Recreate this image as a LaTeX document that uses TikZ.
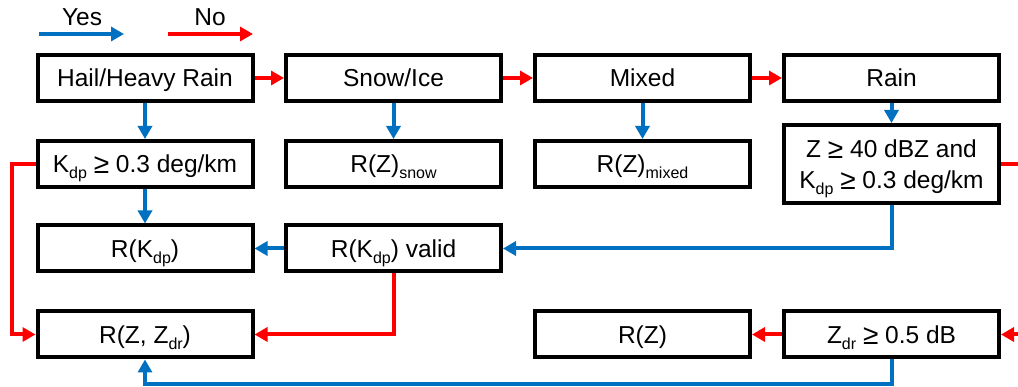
\documentclass[tikz,border=0pt]{standalone}
\usepackage{fontspec}
\setmainfont{Liberation Sans}
\usetikzlibrary{arrows.meta}
\definecolor{yesblue}{RGB}{0,112,192}
\definecolor{nored}{RGB}{255,0,0}
\newcommand{\lowsub}[1]{\raisebox{-6pt}{\fontsize{16}{16}\selectfont #1}}
\newcommand{\gee}{\raisebox{-1pt}{\fontsize{28}{28}\selectfont ≥}}
\begin{document}
\begin{tikzpicture}[x=1pt,y=-1pt,
  box/.style={draw=black, line width=4pt, minimum width=215pt, minimum height=46pt,
    inner sep=0pt, font=\fontsize{24.5}{31}\selectfont, align=center,
    text height=17.5pt, text depth=0pt},
  lbl/.style={inner sep=0pt, font=\fontsize{24.5}{31}\selectfont, text height=17.5pt, text depth=0pt},
  yes/.style={draw=yesblue, line width=4pt, -{Triangle[width=14pt,length=13pt]}},
  no/.style={draw=nored, line width=4pt, -{Triangle[width=14pt,length=13pt]}}]
\useasboundingbox (0,0) rectangle (1018,387);
\clip (0,0) rectangle (1018,387);
% legend
\node[lbl] (yeslbl) at (82,17) {Yes};
\node[lbl] (nolbl) at (210,17) {No};
\coordinate (ys) at (39,34); \coordinate (ye) at (124,34);
\coordinate (ns) at (168,34); \coordinate (ne) at (253,34);
\draw[yes] (ys) -- (ye);
\draw[no] (ns) -- (ne);
% boxes
\node[box] (hail) at (145,78) {Hail/Heavy Rain};
\node[box] (snow) at (393.5,78) {Snow/Ice};
\node[box] (mixed) at (642.5,78) {Mixed};
\node[box] (rain) at (891.5,78) {Rain};
\node[box] (kdp) at (145,164) {K\lowsub{dp} \gee{} 0.3 deg/km};
\node[box] (rsnow) at (393.5,164) {R(Z)\lowsub{snow}};
\node[box] (rmixed) at (642.5,164) {R(Z)\lowsub{mixed}};
\node[box, minimum height=78pt, text height=48.5pt, text depth=0pt] (zkdp) at (891.5,164) {Z \gee{} 40 dBZ and\\K\lowsub{dp} \gee{} 0.3 deg/km};
\node[box] (rkdp) at (145,248.5) {R(K\lowsub{dp})};
\node[box] (valid) at (393.5,248.5) {R(K\lowsub{dp}) valid};
\node[box] (rzzdr) at (145,334.5) {R(Z, Z\lowsub{dr})};
\node[box] (rz) at (642.5,334.5) {R(Z)};
\node[box] (zdr) at (891.5,334.5) {Z\lowsub{dr} \gee{} 0.5 dB};
% connectors
\draw[no] (hail) -- (snow);
\draw[no] (snow) -- (mixed);
\draw[no] (mixed) -- (rain);
\draw[yes] (hail) -- (kdp);
\draw[yes] (snow) -- (rsnow);
\draw[yes] (mixed) -- (rmixed);
\draw[yes] (rain) -- (zkdp);
\draw[yes] (kdp) -- (rkdp);
\draw[yes] (valid) -- (rkdp);
\draw[yes] (zkdp.south) |- (valid.east);
\draw[no] (kdp.west) -- ++(-24,0) |- (rzzdr.west);
\draw[no] (valid.south) |- (rzzdr.east);
\draw[no] (zdr) -- (rz);
\draw[yes] (zdr.south) -- ++(0,25) -| (rzzdr.south);
\draw[no] (zkdp.east) -- ++(40,0) |- (zdr.east);
\end{tikzpicture}
\end{document}
